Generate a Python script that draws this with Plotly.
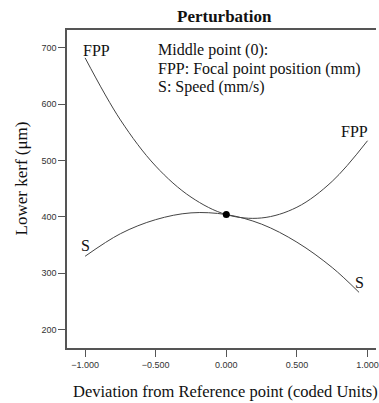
import plotly.graph_objects as go

# Data
deviation_fpp = [-1.0, -0.75, -0.5, -0.25, 0.0, 0.25, 0.5, 0.75, 1.0]
kerf_fpp = [682, 572, 490, 435, 404, 398, 417, 463, 535]

deviation_s = [-1.0, -0.75, -0.5, -0.25, 0.0, 0.25, 0.5, 0.75, 0.94]
kerf_s = [330, 370, 395, 407, 404, 387, 355, 310, 266]

middle_x = [0.0]
middle_y = [404]

x_ticks = [-1.0, -0.5, 0.0, 0.5, 1.0]
y_ticks = [200, 300, 400, 500, 600, 700]

note_lines = ["Middle point (0):", "FPP: Focal point position (mm)", "S: Speed (mm/s)"]

W, H = 379, 403
L, R, T, B = 67, 0, 30, 55
pw = W - L - R
ph = H - T - B

serif = "Liberation Serif"
line_col = "#444444"
txt_col = "#111111"

fig = go.Figure()
fig.add_trace(go.Scatter(x=deviation_fpp, y=kerf_fpp, mode="lines",
                         line=dict(color=line_col, width=1, shape="spline"),
                         showlegend=False, hoverinfo="skip"))
fig.add_trace(go.Scatter(x=deviation_s, y=kerf_s, mode="lines",
                         line=dict(color=line_col, width=1, shape="spline"),
                         showlegend=False, hoverinfo="skip"))
fig.add_trace(go.Scatter(x=middle_x, y=middle_y, mode="markers",
                         marker=dict(color="black", size=7),
                         showlegend=False))

def px_x(p):
    return (p - L) / pw

def px_y(p):
    return (H - B - p) / ph

annots = [
    dict(text="<b>Perturbation</b>", x=px_x(226), y=px_y(16), size=17),
    dict(text="Deviation from Reference point (coded Units)", x=px_x(227), y=px_y(391), size=16.5),
    dict(text="Lower kerf (μm)", x=px_x(21), y=px_y(178), size=17, angle=-90),
]
for a in annots:
    fig.add_annotation(text=a["text"], xref="paper", yref="paper", x=a["x"], y=a["y"],
                       xanchor="center", yanchor="middle", showarrow=False,
                       textangle=a.get("angle", 0),
                       font=dict(family=serif, size=a["size"], color=txt_col))

for i, line in enumerate(note_lines):
    fig.add_annotation(text=line, xref="paper", yref="paper", x=px_x(157), y=px_y(50 + 18.5 * i),
                       xanchor="left", yanchor="middle", align="left", showarrow=False,
                       font=dict(family=serif, size=16, color=txt_col))

labels = [("FPP", -0.92, 695), ("FPP", 0.905, 551), ("S", -0.995, 350), ("S", 0.94, 283)]
for t, lx, ly in labels:
    fig.add_annotation(text=t, x=lx, y=ly, xref="x", yref="y", showarrow=False,
                       xanchor="center", yanchor="middle",
                       font=dict(family=serif, size=16, color=txt_col))

fig.update_xaxes(range=[-1.128, 1.06], tickvals=x_ticks, tickformat=".3f",
                 showgrid=False, zeroline=False, showline=True, linecolor="#555555",
                 linewidth=1.5, mirror=True, ticks="outside", ticklen=7, tickcolor="#555555",
                 ticklabeloverflow="allow",
                 tickfont=dict(family="Liberation Sans", size=9, color="#333333"))
fig.update_yaxes(range=[167.3, 731.4], tickvals=y_ticks,
                 showgrid=False, zeroline=False, showline=True, linecolor="#555555",
                 linewidth=1.5, mirror=False, ticks="outside", ticklen=7, tickcolor="#555555",
                 tickfont=dict(family="Liberation Sans", size=9, color="#333333"))

fig.update_layout(width=W, height=H, margin=dict(l=L, r=R, t=T, b=B, pad=0),
                  paper_bgcolor="white", plot_bgcolor="white")

fig.write_html("out.html")
